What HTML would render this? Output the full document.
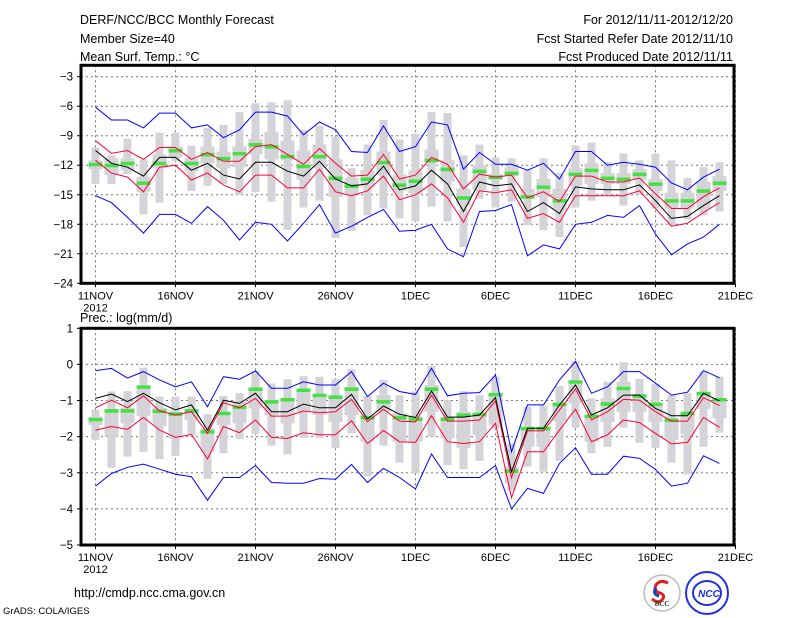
<!DOCTYPE html>
<html><head><meta charset="utf-8"><style>
html,body{margin:0;padding:0;background:#fff;}
svg{display:block;font-family:"Liberation Sans",sans-serif;}
</style></head><body>
<svg id="chart" width="800" height="618" viewBox="0 0 800 618" xmlns="http://www.w3.org/2000/svg">
<rect width="800" height="618" fill="#fff"/>
<g font-size="12.5" fill="#000">
<text x="80" y="24">DERF/NCC/BCC Monthly Forecast</text>
<text x="80" y="43">Member Size=40</text>
<text x="80" y="61">Mean Surf. Temp.: °C</text>
<text x="733" y="24" text-anchor="end">For 2012/11/11-2012/12/20</text>
<text x="733" y="43" text-anchor="end">Fcst Started Refer Date 2012/11/10</text>
<text x="733" y="61" text-anchor="end">Fcst Produced Date 2012/11/11</text>
<text x="80" y="322">Prec.: log(mm/d)</text>
<text x="74" y="597">http://cmdp.ncc.cma.gov.cn</text>
<text x="3" y="614" font-size="9.5">GrADS: COLA/IGES</text>
</g>
<g id="top"></g>
<g id="bot"></g>
<g>
<circle cx="662" cy="593" r="18" fill="#fff" stroke="#bbb" stroke-width="1.5"/>
<path d="M668 583 q-8 -4 -12 2 q-3 6 4 8 q6 2 2 7 q-4 4 -10 -1" fill="none" stroke="#e02020" stroke-width="3"/>
<path d="M656 588 q-4 6 3 8" fill="none" stroke="#1040c0" stroke-width="3"/>
<text x="662" y="606" font-size="7" text-anchor="middle" fill="#333" font-family="Liberation Serif,serif" font-weight="bold">BCC</text>
</g>
<g>
<circle cx="707" cy="593" r="21" fill="#fff" stroke="#2030e0" stroke-width="2"/>
<ellipse cx="707" cy="593" rx="14" ry="12" fill="none" stroke="#2030e0" stroke-width="2"/>
<text x="709" y="597" font-size="10" text-anchor="middle" fill="#2030e0" font-weight="bold" font-style="italic">NCC</text>
</g>
</svg>
<script>
const days = 40;
const topTicks = [-3,-6,-9,-12,-15,-18,-21,-24];
const botTicks = [1,0,-1,-2,-3,-4,-5];
const dateLabels = ["11NOV","16NOV","21NOV","26NOV","1DEC","6DEC","11DEC","16DEC","21DEC"];
// Temperature
const tBlueHi = [-6.1,-7.4,-7.4,-8.2,-6.7,-6.7,-8.2,-7.9,-9.2,-8.4,-6.6,-6.6,-7.0,-8.9,-7.6,-8.4,-10.6,-10.7,-8.0,-10.6,-10.1,-7.6,-7.9,-12.4,-10.7,-11.9,-11.9,-12.5,-11.8,-13.4,-10.6,-10.6,-12.0,-11.7,-11.9,-12.2,-13.8,-14.5,-13.2,-12.4];
const tRedHi = [-9.5,-10.8,-10.5,-11.4,-10.2,-10.2,-11.4,-10.7,-11.6,-11.6,-10.1,-9.9,-10.9,-11.9,-10.3,-11.8,-13.1,-13.0,-10.9,-13.4,-13.0,-11.2,-11.9,-14.4,-12.9,-13.2,-13.0,-15.3,-14.7,-15.7,-13.1,-13.1,-13.7,-13.7,-13.3,-14.9,-16.4,-16.4,-15.2,-14.3];
const tMean = [-10.5,-11.8,-12.2,-13.1,-11.2,-11.2,-12.5,-11.8,-13.0,-13.4,-11.7,-11.7,-12.6,-13.1,-11.6,-13.4,-14.1,-13.9,-12.1,-14.5,-14.1,-12.5,-13.9,-16.7,-13.7,-14.1,-13.9,-16.7,-15.8,-16.9,-14.2,-14.4,-14.5,-14.5,-14.0,-15.6,-17.4,-17.2,-16.1,-15.1];
const tRedLo = [-11.5,-12.8,-13.2,-14.7,-12.2,-12.0,-13.5,-12.8,-14.0,-14.7,-13.0,-13.0,-14.3,-14.3,-12.4,-14.7,-15.1,-14.6,-13.1,-15.5,-15.0,-13.9,-15.3,-17.8,-14.6,-14.8,-14.5,-17.4,-16.9,-17.8,-15.1,-15.1,-15.1,-15.1,-14.6,-16.4,-18.2,-17.9,-16.8,-15.8];
const tBlueLo = [-15.1,-15.8,-17.3,-18.9,-17.0,-17.0,-17.9,-16.2,-17.6,-19.6,-17.8,-18.0,-19.7,-17.9,-16.0,-18.9,-18.2,-17.3,-16.5,-18.7,-18.6,-18.0,-20.5,-21.3,-16.7,-16.6,-16.0,-21.2,-20.1,-20.5,-18.0,-17.8,-17.1,-17.3,-16.1,-19.0,-21.1,-20.0,-19.3,-18.0];
const tMedian = [-11.9,-12.0,-11.8,-13.8,-11.8,-10.5,-11.8,-10.9,-11.3,-10.8,-9.9,-10.1,-11.1,-12.1,-11.1,-13.3,-14.1,-13.4,-11.7,-14.0,-13.6,-11.5,-12.4,-15.3,-12.6,-13.2,-12.8,-15.2,-14.2,-15.6,-12.9,-12.5,-13.3,-13.4,-12.9,-13.9,-15.6,-15.6,-14.6,-13.8];
const tWhiskHi = [-10.2,-11.0,-9.3,-11.4,-8.7,-8.7,-10.0,-8.2,-7.9,-6.6,-5.7,-5.6,-5.4,-8.4,-8.0,-9.1,-12.3,-9.9,-7.4,-9.4,-8.8,-6.6,-6.7,-11.0,-9.9,-11.2,-11.3,-12.5,-11.3,-12.8,-10.0,-9.7,-11.7,-10.8,-11.5,-10.8,-11.5,-13.3,-12.2,-11.7];
const tWhiskLo = [-13.9,-13.9,-12.9,-17.0,-15.8,-11.6,-14.6,-14.1,-13.9,-15.0,-14.7,-15.7,-18.6,-16.3,-15.6,-19.4,-18.7,-17.1,-16.4,-17.4,-17.7,-16.2,-17.7,-20.3,-15.4,-16.3,-15.7,-18.1,-18.6,-19.3,-16.3,-15.6,-15.0,-16.1,-15.0,-16.4,-18.1,-17.5,-17.1,-16.7];
const tBoxHi = [-11.5,-11.3,-11.3,-13.2,-10.9,-10.1,-11.3,-10.1,-10.6,-10.1,-9.3,-8.6,-9.5,-10.5,-9.9,-11.4,-13.3,-12.5,-10.6,-13.0,-12.5,-10.4,-11.5,-14.4,-12.0,-12.9,-12.2,-14.4,-13.4,-14.4,-12.3,-11.8,-12.8,-12.8,-12.4,-13.4,-14.8,-14.8,-13.7,-13.1];
const tBoxLo = [-12.4,-13.0,-12.5,-14.7,-12.3,-11.2,-12.6,-11.8,-12.3,-12.2,-10.9,-11.4,-11.5,-13.5,-12.3,-15.2,-14.9,-14.2,-13.0,-14.6,-14.9,-11.4,-13.7,-16.1,-14.5,-13.5,-13.1,-15.2,-15.2,-16.6,-14.1,-13.9,-13.9,-13.9,-13.5,-14.6,-16.4,-16.4,-16.4,-14.6];
// Precipitation
const pBlueHi = [-0.17,-0.11,-0.38,-0.2,-0.43,-0.62,-0.48,-1.17,-0.34,-0.41,-0.18,-0.66,-0.66,-0.48,-0.57,-0.57,-0.2,-0.89,-0.52,-0.75,-0.83,-0.11,-0.87,-0.8,-0.78,-0.29,-2.42,-1.12,-1.12,-0.43,0.08,-0.8,-0.62,-0.2,-0.2,-0.52,-0.85,-0.77,-0.17,-0.37];
const pRedHi = [-1.2,-0.99,-1.2,-0.87,-1.29,-1.4,-1.31,-1.91,-1.06,-1.2,-0.94,-1.43,-1.43,-1.29,-1.34,-1.31,-0.97,-1.59,-1.24,-1.57,-1.59,-0.85,-1.57,-1.57,-1.54,-1.01,-3.14,-1.84,-1.84,-1.26,-0.68,-1.54,-1.31,-0.97,-0.99,-1.31,-1.57,-1.57,-0.92,-1.14];
const pMean = [-0.94,-0.82,-1.03,-0.8,-1.06,-1.26,-1.12,-1.82,-0.99,-1.08,-0.8,-1.31,-1.31,-1.1,-1.2,-1.2,-0.83,-1.51,-1.15,-1.38,-1.47,-0.74,-1.46,-1.46,-1.4,-0.92,-2.97,-1.77,-1.77,-1.12,-0.57,-1.4,-1.2,-0.85,-0.85,-1.22,-1.42,-1.42,-0.8,-1.01];
const pRedLo = [-1.82,-1.72,-1.8,-1.47,-1.82,-2.02,-1.94,-2.62,-1.72,-1.89,-1.54,-2.02,-2.05,-1.89,-1.95,-1.95,-1.56,-2.19,-1.83,-2.14,-2.16,-1.42,-2.14,-2.19,-2.14,-1.63,-3.69,-2.42,-2.42,-1.82,-1.24,-2.14,-1.95,-1.54,-1.61,-1.91,-2.2,-2.16,-1.47,-1.74];
const pBlueLo = [-3.37,-3.02,-2.85,-2.76,-2.9,-3.04,-3.11,-3.76,-3.13,-3.13,-2.8,-3.27,-3.29,-3.29,-3.16,-3.18,-2.77,-3.27,-2.88,-3.13,-3.45,-2.48,-3.13,-3.13,-3.13,-2.8,-4.0,-3.43,-3.57,-2.74,-2.31,-3.04,-3.04,-2.54,-2.6,-2.91,-3.37,-3.29,-2.53,-2.74];
const pMedian = [-1.52,-1.28,-1.28,-0.62,-1.29,-1.37,-1.28,-1.86,-1.35,-1.18,-0.68,-1.03,-0.97,-0.71,-0.85,-0.9,-0.68,-1.47,-1.03,-1.47,-1.51,-0.68,-1.51,-1.4,-1.38,-0.83,-2.95,-1.77,-1.77,-1.1,-0.48,-1.43,-1.09,-0.66,-0.87,-1.1,-1.54,-1.35,-0.8,-0.97];
const pWhiskHi = [-1.26,-0.75,-0.74,-0.09,-0.89,-0.89,-0.89,-1.38,-0.87,-0.8,-0.18,-0.53,-0.41,-0.32,-0.34,-0.41,-0.13,-0.88,-0.43,-0.85,-0.75,-0.04,-0.99,-0.74,-0.85,-0.34,-2.19,-1.17,-1.14,-0.6,0.1,-0.94,-0.48,0.06,-0.4,-0.54,-0.85,-0.8,-0.2,-0.34];
const pWhiskLo = [-2.09,-2.86,-2.55,-2.42,-2.62,-2.53,-1.97,-3.17,-2.46,-2.07,-1.93,-2.25,-2.49,-2.03,-2.03,-2.32,-1.91,-3.09,-2.25,-2.72,-3.02,-2.0,-2.79,-2.9,-2.67,-1.77,-3.48,-2.83,-2.97,-2.67,-1.75,-2.46,-2.28,-1.75,-2.17,-2.31,-2.72,-3.04,-2.28,-1.89];
const pBoxHi = [-1.45,-1.26,-1.2,-0.62,-1.2,-1.31,-1.26,-1.77,-1.31,-1.03,-0.66,-0.99,-0.92,-0.74,-0.83,-0.94,-0.62,-1.4,-0.85,-1.35,-1.45,-0.57,-1.45,-1.31,-1.4,-0.85,-2.83,-1.77,-1.75,-1.1,-0.48,-1.4,-0.94,-0.48,-0.83,-1.08,-1.49,-1.35,-0.77,-0.94];
const pBoxLo = [-1.68,-2.0,-1.63,-1.42,-1.7,-2.05,-1.54,-2.42,-1.68,-1.63,-1.22,-1.4,-1.63,-1.31,-1.4,-1.59,-1.4,-2.14,-1.31,-2.14,-2.14,-1.31,-2.05,-2.31,-1.95,-1.68,-3.29,-2.28,-2.28,-1.57,-1.08,-2.14,-1.59,-1.31,-1.31,-1.59,-2.09,-1.94,-1.23,-1.49];

const NS = "http://www.w3.org/2000/svg";
function mk(parent, tag, attrs){ const e=document.createElementNS(NS,tag); for(const k in attrs) e.setAttribute(k,attrs[k]); parent.appendChild(e); return e; }
const X0 = 81, X1 = 734;
function xOf(d){ return 95.5 + 16*d; }

function panel(g, top, bottom, vTop, vBot, ticks, s){
  const yOf = v => top + (vTop - v) / (vTop - vBot) * (bottom - top);
  // grid
  for(let i=0;i<dateLabels.length;i++){
    const x = xOf(i*5);
    const l = mk(g,'line',{x1:x,x2:x,y1:top,y2:bottom,stroke:'#777','stroke-width':1,'stroke-dasharray':'2,3'});
    
    
    const t = mk(g,'text',{x:x,y:bottom+16,'font-size':11,'text-anchor':'middle'});
    t.textContent = dateLabels[i];
    
    
    const tk = mk(g,'line',{x1:x,x2:x,y1:bottom,y2:bottom+4,stroke:'#000'});
    
    
  }
  const yr = mk(g,'text',{x:xOf(0),y:bottom+28,'font-size':11,'text-anchor':'middle'});
  yr.textContent = '2012';
  
  
  for(const v of ticks){
    const y = yOf(v);
    if (y > top+2 && y < bottom-2){
      const l = mk(g,'line',{x1:X0,x2:X1,y1:y,y2:y,stroke:'#777','stroke-width':1,'stroke-dasharray':'2,3'});
      
      
    }
    const tk = mk(g,'line',{x1:X0-4,x2:X0,y1:y,y2:y,stroke:'#000'});
    
    
    const t = mk(g,'text',{x:X0-8,y:y+4,'font-size':11.5,'text-anchor':'end'});
    t.textContent = v === 0 ? '0' : String(v).replace('-','\u2212');
    
    
  }
  // grey bars
  for(let d=0; d<days; d++){
    const x = xOf(d);
    const w = mk(g,'rect',{x:x-4,y:yOf(s.wh[d]),width:8,height:yOf(s.wl[d])-yOf(s.wh[d]),fill:'#d3d3d8'});
    
    
    const b = mk(g,'rect',{x:x-7,y:yOf(s.bh[d]),width:14,height:yOf(s.bl[d])-yOf(s.bh[d]),fill:'#d3d3d8'});
    
    
  }
  for(let d=0; d<days; d++){
    const x = xOf(d);
    const m = mk(g,'rect',{x:x-7,y:yOf(s.med[d])-1.5,width:14,height:3.5,fill:'#44e044'});
    
    
  }
  const series = [[s.bh2,'#0000ff','max-line'],[s.rh,'#ff0033','upper-spread-line'],[s.rl,'#ff0033','lower-spread-line'],[s.bl2,'#0000ff','min-line'],[s.mean,'#000','ensemble-mean-line']];
  for(const [arr,col,name] of series){
    const pts = arr.map((v,d)=> xOf(d).toFixed(1)+','+yOf(v).toFixed(1)).join(' ');
    const p = mk(g,'polyline',{points:pts,fill:'none',stroke:col,'stroke-width':1});
    
    
  }
  const f = mk(g,'rect',{x:X0,y:top,width:X1-X0,height:bottom-top,fill:'none',stroke:'#000','stroke-width':3});
  
  
}
panel(document.getElementById('top'), 65.3, 283.3, -1.84, -24, topTicks,
  {wh:tWhiskHi,wl:tWhiskLo,bh:tBoxHi,bl:tBoxLo,med:tMedian,bh2:tBlueHi,rh:tRedHi,mean:tMean,rl:tRedLo,bl2:tBlueLo});
panel(document.getElementById('bot'), 328.3, 545, 1, -5, botTicks,
  {wh:pWhiskHi,wl:pWhiskLo,bh:pBoxHi,bl:pBoxLo,med:pMedian,bh2:pBlueHi,rh:pRedHi,mean:pMean,rl:pRedLo,bl2:pBlueLo});
</script>
</body></html>
